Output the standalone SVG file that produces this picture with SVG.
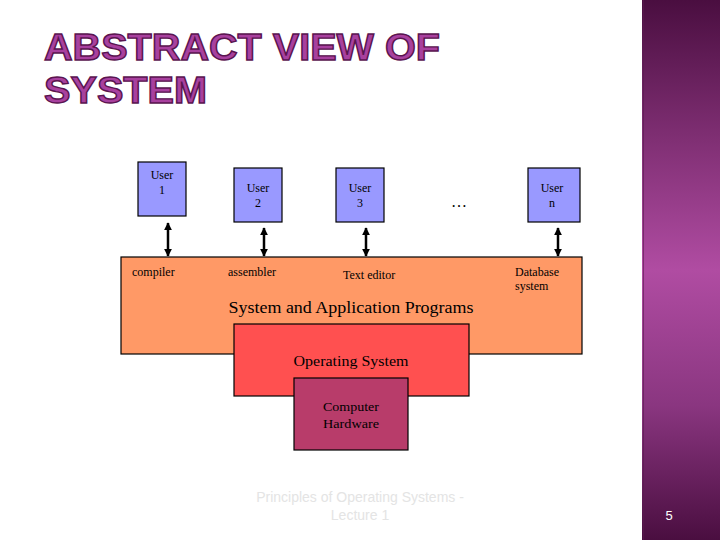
<svg xmlns="http://www.w3.org/2000/svg" width="720" height="540" viewBox="0 0 720 540">
<defs>
<linearGradient id="side" x1="0" y1="0" x2="0" y2="1">
<stop offset="0" stop-color="#4a0e40"/>
<stop offset="0.25" stop-color="#7e2e72"/>
<stop offset="0.5" stop-color="#b04ca2"/>
<stop offset="0.75" stop-color="#8a3680"/>
<stop offset="1" stop-color="#4a0e40"/>
</linearGradient>
<marker id="ah" viewBox="0 0 10 10" refX="9" refY="5" markerWidth="3.2" markerHeight="3.2" orient="auto-start-reverse" markerUnits="strokeWidth">
<path d="M0,0 L10,5 L0,10 Z" fill="#000"/>
</marker>
<style>
.t{font-family:"Liberation Serif","Times New Roman",serif;fill:#000;}
.user{fill:#9999ff;stroke:#000;stroke-width:1.2;}
.conn{stroke:#000;stroke-width:2.5;fill:none;marker-start:url(#ah);marker-end:url(#ah);}
.title{font-family:"Liberation Sans",Arial,sans-serif;font-weight:bold;font-size:37px;fill:#a8409e;stroke:#5a1450;stroke-width:1.4;}
</style>
</defs>
<rect x="0" y="0" width="720" height="540" fill="#fff"/>
<rect x="642" y="0" width="78" height="540" fill="url(#side)"/>
<line x1="643.5" y1="0" x2="643.5" y2="540" stroke="#5a1a50" stroke-width="1" opacity="0.6"/>
<text x="669" y="520" font-family="'Liberation Sans',Arial,sans-serif" font-size="13" fill="#fff" text-anchor="middle">5</text>

<text class="title" x="44" y="60" textLength="396" lengthAdjust="spacingAndGlyphs">ABSTRACT VIEW OF</text>
<text class="title" x="44" y="103" textLength="163" lengthAdjust="spacingAndGlyphs">SYSTEM</text>

<g id="apps">
<rect x="121" y="257" width="461" height="97" fill="#ff9966" stroke="#000" stroke-width="1.2"/>
<text class="t" x="132" y="276" font-size="12">compiler</text>
<text class="t" x="228" y="276" font-size="12">assembler</text>
<text class="t" x="343" y="279" font-size="12">Text editor</text>
<text class="t" x="515" y="276" font-size="12">Database</text>
<text class="t" x="515" y="290" font-size="12">system</text>
<text class="t" x="351" y="313" font-size="16" text-anchor="middle" textLength="245" lengthAdjust="spacingAndGlyphs">System and Application Programs</text>
</g>
<g id="os">
<rect x="234" y="324" width="235" height="72" fill="#ff5050" stroke="#000" stroke-width="1.2"/>
<text class="t" x="351" y="366" font-size="15" text-anchor="middle" textLength="115" lengthAdjust="spacingAndGlyphs">Operating System</text>
</g>
<g id="hw">
<rect x="294" y="378" width="114" height="72" fill="#b83c6a" stroke="#000" stroke-width="1.2"/>
<text class="t" x="351" y="411" font-size="13.5" text-anchor="middle" textLength="56" lengthAdjust="spacingAndGlyphs">Computer</text>
<text class="t" x="351" y="428" font-size="13.5" text-anchor="middle" textLength="56" lengthAdjust="spacingAndGlyphs">Hardware</text>
</g>
<g id="user1">
<rect class="user" x="138" y="162" width="48" height="54"/>
<text class="t" x="162" y="179" font-size="12" text-anchor="middle">User</text>
<text class="t" x="162" y="194" font-size="12" text-anchor="middle">1</text>
</g>
<g id="user2">
<rect class="user" x="234" y="168" width="48" height="54"/>
<text class="t" x="258" y="192" font-size="12" text-anchor="middle">User</text>
<text class="t" x="258" y="207" font-size="12" text-anchor="middle">2</text>
</g>
<g id="user3">
<rect class="user" x="336" y="168" width="48" height="54"/>
<text class="t" x="360" y="192" font-size="12" text-anchor="middle">User</text>
<text class="t" x="360" y="207" font-size="12" text-anchor="middle">3</text>
</g>
<g id="dots">
<text class="t" x="459" y="207" font-size="16" text-anchor="middle">…</text>
</g>
<g id="usern">
<rect class="user" x="528" y="168" width="52" height="54"/>
<text class="t" x="552" y="192" font-size="12" text-anchor="middle">User</text>
<text class="t" x="552" y="207" font-size="12" text-anchor="middle">n</text>
</g>
<g id="connectors">
<line class="conn" x1="168" y1="223" x2="168" y2="256"/>
<line class="conn" x1="264" y1="228" x2="264" y2="256"/>
<line class="conn" x1="366" y1="228" x2="366" y2="256"/>
<line class="conn" x1="558" y1="228" x2="558" y2="256"/>
</g>
<g id="footer">
<text x="360" y="502" font-family="'Liberation Sans',Arial,sans-serif" font-size="14" fill="#e4e4e4" text-anchor="middle">Principles of Operating Systems -</text>
<text x="360" y="520" font-family="'Liberation Sans',Arial,sans-serif" font-size="14" fill="#e4e4e4" text-anchor="middle">Lecture 1</text>
</g>
</svg>
